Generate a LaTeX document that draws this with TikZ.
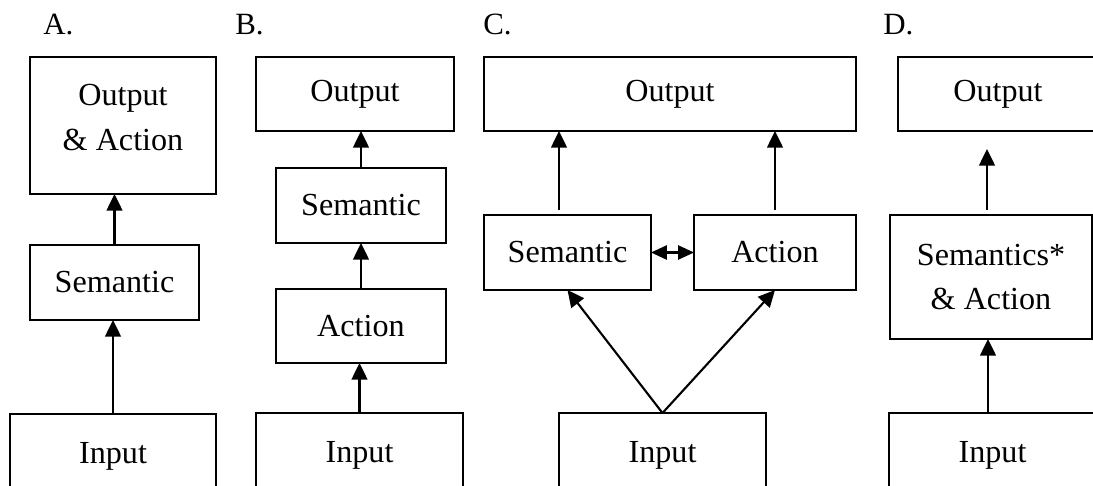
\documentclass[tikz,border=0pt]{standalone}
\usepackage{fontspec}
\setmainfont{Liberation Serif}
\usetikzlibrary{arrows.meta,calc}

\begin{document}
\begin{tikzpicture}[x=0.02cm,y=-0.02cm,
  box/.style={draw,line width=1.2pt,inner sep=0pt,outer sep=0pt,align=center,
              font=\fontsize{18.3}{25.5}\selectfont},
  sz/.style 2 args={minimum width=#1*\U,minimum height=#2*\U},
  lab/.style={anchor=base west,inner sep=0pt,font=\fontsize{17.6}{20}\selectfont},
  arr/.style={line width=1.2pt,-{Triangle[length=9.5pt,width=9pt]}},
  darr/.style={line width=1.2pt,{Triangle[length=9pt,width=8pt]}-{Triangle[length=9pt,width=8pt]}}]
  \def\U{0.02cm}
  \useasboundingbox (0,0) rectangle (1093,486);
  \clip (0,0) rectangle (1093,486);

  % A: semantic only
  \node[lab] (labA) at (43,35) {A.};
  \node[box,sz={186}{137},text depth=0.34cm] (aout) at (123,125.5) {Output\\\& Action};
  \node[box,sz={169}{75}] (asem) at (114.5,282.5) {Semantic};
  \node[box,sz={206}{84}] (ain) at (113,456) {Input};
  \draw[arr] (asem.north) -- (asem.north |- aout.south);
  \draw[arr] (ain.north) -- (ain.north |- asem.south);

  % B: action, then semantic
  \node[lab] (labB) at (235,35) {B.};
  \node[box,sz={198}{74}] (bout) at (355,94) {Output};
  \node[box,sz={170}{75}] (bsem) at (361,205.5) {Semantic};
  \node[box,sz={170}{74}] (bact) at (361,326) {Action};
  \node[box,sz={207}{84}] (bin) at (359.5,455) {Input};
  \draw[arr] (bsem.north) -- (bsem.north |- bout.south);
  \draw[arr] (bact.north) -- (bsem.south);
  \draw[arr] (bin.north) -- (bin.north |- bact.south);

  % C: two streams side by side
  \node[lab] (labC) at (483,35) {C.};
  \node[box,sz={372}{74}] (cout) at (670,94) {Output};
  \node[box,sz={167}{75}] (csem) at (567.5,252.5) {Semantic};
  \node[box,sz={162}{75}] (cact) at (775,252.5) {Action};
  \node[box,sz={207}{84}] (cin) at (662.5,455) {Input};
  \draw[arr] ($(csem.north)+(-8.5,-5)$) coordinate (cs1) -- (cs1 |- cout.south);
  \draw[arr] ($(cact.north)+(0,-5)$) coordinate (ca1) -- (ca1 |- cout.south);
  \draw[darr] (csem) -- (cact);
  \draw[arr] (cin.north) -- (csem.south);
  \draw[arr] (cin.north) -- (cact.south);

  % D: joint semantics and action
  \node[lab] (labD) at (883,35) {D.};
  \node[box,sz={200}{74}] (dout) at (998,94) {Output};
  \node[box,sz={202}{124}] (dsa) at (991,277) {Semantics*\\\& Action};
  \node[box,sz={207}{84}] (din) at (992.5,455) {Input};
  \draw[arr] ($(dsa.north)+(-4,-5)$) coordinate (d1) -- ($(d1 |- dout.south)+(0,18)$);
  \draw[arr] ($(din.north)+(-4.5,0)$) coordinate (d2) -- (d2 |- dsa.south);
\end{tikzpicture}
\end{document}
